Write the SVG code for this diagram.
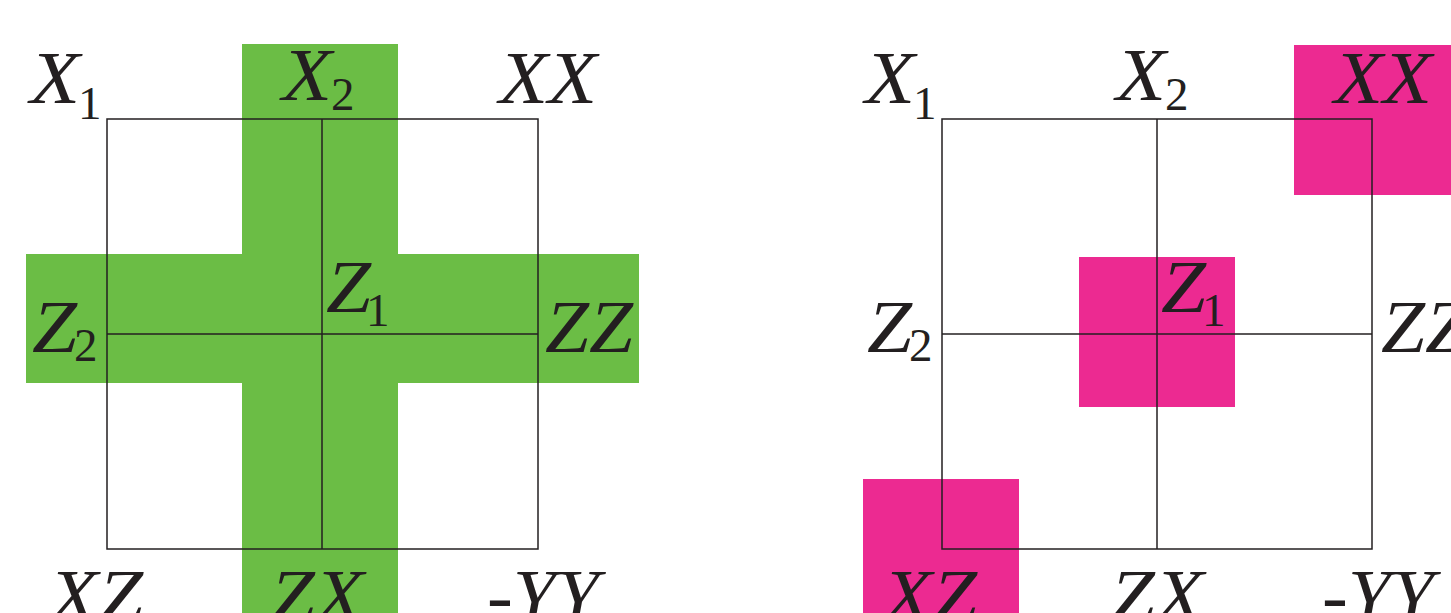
<svg xmlns="http://www.w3.org/2000/svg" width="1451" height="613" viewBox="0 0 1451 613">
<style>
.g{fill:#6bbd45}
.p{fill:#ec2a91}
.ln{fill:none;stroke:#231f20;stroke-width:1.5}
.t{font-family:"Liberation Serif",serif;font-style:italic;font-size:74px;fill:#231f20}
.s{font-family:"Liberation Serif",serif;font-style:normal;font-size:47px;fill:#231f20}
</style>
<rect width="1451" height="613" fill="#fff"/>
<g id="left-panel">
<g id="left-highlight">
<rect class="g" x="242" y="44" width="156" height="569"/>
<rect class="g" x="26" y="254" width="613" height="129"/>
</g>
<g id="left-grid">
<rect class="ln" x="107" y="119" width="431" height="430"/>
<line class="ln" x1="322" y1="119" x2="322" y2="549"/>
<line class="ln" x1="107" y1="334" x2="538" y2="334"/>
</g>
<g id="left-labels">
<text class="t" x="30" y="103" textLength="50" lengthAdjust="spacingAndGlyphs">X</text><text class="s" x="78" y="119">1</text>
<text class="t" x="282" y="100" textLength="50" lengthAdjust="spacingAndGlyphs">X</text><text class="s" x="331" y="110">2</text>
<text class="t" x="499" y="103" textLength="98" lengthAdjust="spacingAndGlyphs">XX</text>
<text class="t" x="32" y="352" textLength="45" lengthAdjust="spacingAndGlyphs">Z</text><text class="s" x="74" y="361">2</text>
<text class="t" x="326" y="312" textLength="45" lengthAdjust="spacingAndGlyphs">Z</text><text class="s" x="366" y="326">1</text>
<text class="t" x="545" y="352" textLength="88" lengthAdjust="spacingAndGlyphs">ZZ</text>
<text class="t" x="49" y="621" textLength="94" lengthAdjust="spacingAndGlyphs">XZ</text>
<text class="t" x="270" y="621" textLength="94" lengthAdjust="spacingAndGlyphs">ZX</text>
<text class="t" x="487" y="621" textLength="112" lengthAdjust="spacingAndGlyphs">-YY</text>
</g>
</g>
<g id="right-panel">
<g id="right-highlight">
<rect class="p" x="1294" y="45" width="157" height="150"/>
<rect class="p" x="1079" y="257" width="156" height="150"/>
<rect class="p" x="863" y="479" width="156" height="134"/>
</g>
<g id="right-grid">
<rect class="ln" x="942" y="119" width="430" height="430"/>
<line class="ln" x1="1157" y1="119" x2="1157" y2="549"/>
<line class="ln" x1="942" y1="334" x2="1372" y2="334"/>
</g>
<g id="right-labels">
<text class="t" x="865" y="103" textLength="50" lengthAdjust="spacingAndGlyphs">X</text><text class="s" x="913" y="119">1</text>
<text class="t" x="1116" y="100" textLength="50" lengthAdjust="spacingAndGlyphs">X</text><text class="s" x="1165" y="110">2</text>
<text class="t" x="1334" y="103" textLength="98" lengthAdjust="spacingAndGlyphs">XX</text>
<text class="t" x="867" y="352" textLength="45" lengthAdjust="spacingAndGlyphs">Z</text><text class="s" x="909" y="361">2</text>
<text class="t" x="1161" y="312" textLength="45" lengthAdjust="spacingAndGlyphs">Z</text><text class="s" x="1202" y="326">1</text>
<text class="t" x="1381" y="352" textLength="88" lengthAdjust="spacingAndGlyphs">ZZ</text>
<text class="t" x="883" y="621" textLength="94" lengthAdjust="spacingAndGlyphs">XZ</text>
<text class="t" x="1110" y="621" textLength="94" lengthAdjust="spacingAndGlyphs">ZX</text>
<text class="t" x="1322" y="621" textLength="112" lengthAdjust="spacingAndGlyphs">-YY</text>
</g>
</g>
</svg>
